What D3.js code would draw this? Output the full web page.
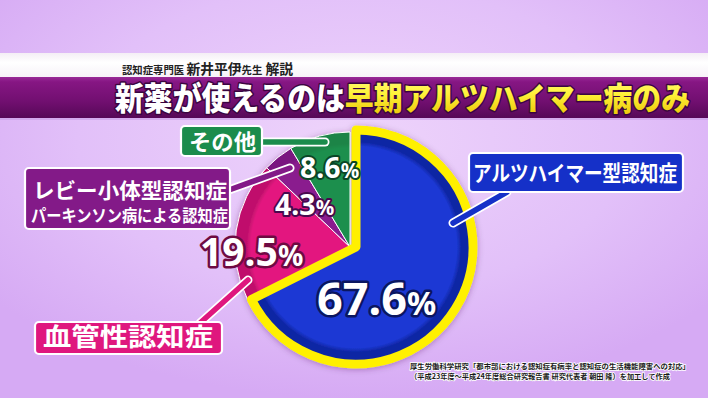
<!DOCTYPE html>
<html><head><meta charset="utf-8">
<script src="https://cdn.jsdelivr.net/npm/d3@7"></script>
<style>
html,body{margin:0;padding:0;background:#dcb4f7;}
svg{display:block;}
</style></head>
<body>
<svg id="chart" width="708" height="398"></svg>
<script>
// ---- data ----
const categories = ["アルツハイマー型認知症", "血管性認知症", "レビー小体型認知症", "その他"];
const subCategories = ["", "", "パーキンソン病による認知症", ""];
const values = [67.6, 19.5, 4.3, 8.6];
const headerParts = ["認知症専門医 ", "新井平伊", "先生", " 解説"];
const titleWhite = "新薬が使えるのは";
const titleYellow = "早期アルツハイマー病のみ";
const sourceLines = [
  "厚生労働科学研究「都市部における認知症有病率と認知症の生活機能障害への対応」",
  "（平成23年度～平成24年度総合研究報告書 研究代表者 朝田 隆）を加工して作成"
];

// ---- styles ----
const fillMain = ["#1c38d4", "#e3177f", "#8a1c8e", "#1e8f4e"];
const fillRim  = ["#0f26a4", "#c0106c", "#7a1580", "#1a8446"];
const outline  = ["#0a1660", "#6e0a42", "#48094e", "#0b4626"];
const boxFill  = ["#1530c8", "#df177e", "#831a88", "#1b8c4c"];

const svg = d3.select("#chart");
const W = 708, H = 398;
const defs = svg.append("defs");

// background
const bg = defs.append("radialGradient").attr("id","bg").attr("cx","50%").attr("cy","35%").attr("r","65%");
bg.append("stop").attr("offset","0%").attr("stop-color","#eed4fb");
bg.append("stop").attr("offset","60%").attr("stop-color","#e2c0f9");
bg.append("stop").attr("offset","100%").attr("stop-color","#d6aaf4");
svg.append("rect").attr("width",W).attr("height",H).attr("fill","url(#bg)");

// header strip
const hs = defs.append("linearGradient").attr("id","hs").attr("x1",0).attr("y1",0).attr("x2",0).attr("y2",1);
hs.append("stop").attr("offset","0%").attr("stop-color","#f4eef5");
hs.append("stop").attr("offset","40%").attr("stop-color","#ffffff");
hs.append("stop").attr("offset","100%").attr("stop-color","#f7f2f8");
svg.append("rect").attr("x",0).attr("y",53).attr("width",W).attr("height",24).attr("fill","url(#hs)");

const pb = defs.append("linearGradient").attr("id","pb").attr("x1",0).attr("y1",0).attr("x2",0).attr("y2",1);
pb.append("stop").attr("offset","0%").attr("stop-color","#9a2a98");
pb.append("stop").attr("offset","12%").attr("stop-color","#861683");
pb.append("stop").attr("offset","60%").attr("stop-color","#710f70");
pb.append("stop").attr("offset","100%").attr("stop-color","#560857");
svg.append("rect").attr("x",0).attr("y",77).attr("width",W).attr("height",41).attr("fill","url(#pb)");
svg.append("rect").attr("x",0).attr("y",118).attr("width",W).attr("height",2).attr("fill","#c99be6").attr("opacity",0.6);

// header text
const jp = "'Noto Sans CJK JP', 'Noto Sans CJK SC', sans-serif";
const ht = svg.append("text").attr("x",122).attr("y",73.5).attr("font-family",jp).attr("font-weight",700).attr("fill","#222")
  .attr("textLength",171).attr("lengthAdjust","spacingAndGlyphs");
const hsz = [10.5, 14, 10.5, 14];
headerParts.forEach((t,i)=>ht.append("tspan").attr("font-size",hsz[i]).text(t));

// title
const yg = defs.append("linearGradient").attr("id","yg").attr("x1",0).attr("y1",0).attr("x2",0).attr("y2",1);
yg.append("stop").attr("offset","0%").attr("stop-color","#fffb8a");
yg.append("stop").attr("offset","45%").attr("stop-color","#fff23a");
yg.append("stop").attr("offset","100%").attr("stop-color","#e9c000");
const tt = svg.append("text").attr("x",115).attr("y",110).attr("font-family",jp).attr("font-weight",900)
  .attr("font-size",32).attr("textLength",575).attr("lengthAdjust","spacingAndGlyphs")
  .attr("stroke","#3a0540").attr("stroke-width",3).attr("paint-order","stroke").attr("stroke-linejoin","round");
tt.append("tspan").attr("fill","#ffffff").text(titleWhite);
tt.append("tspan").attr("fill","url(#yg)").text(titleYellow);

// ---- pie ----
const cx = 350, cy = 247, R = 115;
const pie = d3.pie().sort(null).value(d=>d)(values);
const arc = d3.arc().innerRadius(0);

const sh = defs.append("filter").attr("id","sh").attr("x","-20%").attr("y","-20%").attr("width","140%").attr("height","140%");
sh.append("feDropShadow").attr("dx",0).attr("dy",1).attr("stdDeviation",3).attr("flood-color","#4a0a50").attr("flood-opacity",0.35);

pie.forEach((p,i)=>{
  const g = defs.append("radialGradient").attr("id","rg"+i).attr("gradientUnits","userSpaceOnUse")
    .attr("cx",0).attr("cy",0).attr("r", i===0 ? 117 : R);
  g.append("stop").attr("offset","0%").attr("stop-color",fillMain[i]);
  g.append("stop").attr("offset","86%").attr("stop-color",fillMain[i]);
  g.append("stop").attr("offset","90%").attr("stop-color",fillRim[i]);
  g.append("stop").attr("offset","100%").attr("stop-color",fillRim[i]);
});

const pg = svg.append("g").attr("filter","url(#sh)");
const small = pg.append("g").attr("transform",`translate(${cx},${cy})`);
small.selectAll("path").data(pie.slice(1)).join("path")
  .attr("d", d=>arc.outerRadius(R)(d))
  .attr("fill", (d,i)=>`url(#rg${i+1})`)
  .attr("stroke","#ffffff").attr("stroke-width",1).attr("stroke-linejoin","round");

const big = pg.append("g").attr("transform",`translate(${cx+6},${cy})`);
big.append("path").datum(pie[0])
  .attr("d", d=>arc.outerRadius(117)(d))
  .attr("fill","url(#rg0)")
  .attr("stroke","#fff000").attr("stroke-width",9).attr("stroke-linejoin","round");

// ---- connectors ----
const connectors = [
  {i:0, pts:[[507,192],[453,223]]},
  {i:1, pts:[[200,323],[248,280]]},
  {i:2, pts:[[229,190],[290,168]]},
  {i:3, pts:[[262,142],[325,142]]}
];
const line = d3.line();
connectors.forEach(c=>{
  svg.append("path").attr("d",line(c.pts)).attr("stroke","#ffffff").attr("stroke-width",9).attr("stroke-linecap","round").attr("fill","none");
  svg.append("path").attr("d",line(c.pts)).attr("stroke",boxFill[c.i]).attr("stroke-width",5.5).attr("stroke-linecap","round").attr("fill","none");
});

// ---- label boxes ----
const boxes = [
  {i:0, x:469, y:153, w:214, h:39},
  {i:1, x:35,  y:322, w:187, h:32},
  {i:2, x:25,  y:168, w:205, h:61},
  {i:3, x:181, y:126, w:81,  h:30}
];
boxes.forEach(b=>{
  svg.append("rect").attr("x",b.x).attr("y",b.y).attr("width",b.w).attr("height",b.h).attr("rx",4)
    .attr("fill",boxFill[b.i]).attr("stroke","#ffffff").attr("stroke-width",2.2);
});
const lbl = (x,y,size,len,txt)=>svg.append("text").attr("x",x).attr("y",y).attr("font-family",jp).attr("font-weight",700)
  .attr("font-size",size).attr("fill","#fff").attr("textLength",len).attr("lengthAdjust","spacingAndGlyphs").text(txt);
lbl(473,181,21.5,204,categories[0]);
lbl(43,346,25,170,categories[1]);
lbl(33,198,21,194,categories[2]);
lbl(31,222,17,197,subCategories[2]);
lbl(189,150,22,67,categories[3]);

// ---- value labels ----
const valPos = [
  {x:317, y:315, s:45},
  {x:200, y:266, s:39},
  {x:275, y:215, s:28.5},
  {x:300, y:178, s:28.5}
];
const fmt = d3.format(".1f");
values.forEach((v,i)=>{
  const p = valPos[i];
  const t = svg.append("text").attr("x",p.x).attr("y",p.y).attr("font-family","'Noto Sans', 'DejaVu Sans', sans-serif")
    .attr("font-weight",700).attr("fill","#fff").attr("stroke",outline[i]).attr("stroke-width", i<2?5:4)
    .attr("paint-order","stroke").attr("stroke-linejoin","round");
  t.append("tspan").attr("font-size",p.s).text(fmt(v));
  t.append("tspan").attr("font-size",p.s*0.72).text("%");
});

// ---- source ----
sourceLines.forEach((s,i)=>{
  svg.append("text").attr("x",410).attr("y",369+i*9.5).attr("font-family",jp).attr("font-weight",700)
    .attr("font-size",7.4).attr("fill","#1a1a1a").attr("stroke","#ffffff").attr("stroke-width",1.6)
    .attr("paint-order","stroke").attr("textLength", i===0?280:260).attr("lengthAdjust","spacingAndGlyphs").text(s);
});
</script>
</body></html>
